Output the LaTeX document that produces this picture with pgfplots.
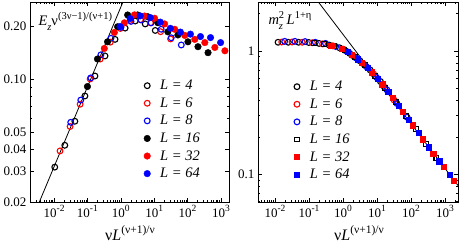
\documentclass[border=0pt]{standalone}
\usepackage{fontspec}
\setmainfont{Liberation Serif}
\usepackage{pgfplots}
\pgfplotsset{compat=1.18}
\newcommand{\fs}{\fontsize{13bp}{15bp}\selectfont}
\newcommand{\fl}{\fontsize{14.5bp}{16bp}\selectfont}
\newcommand{\supx}[1]{\raisebox{0.42em}{\fontsize{9.5bp}{10bp}\selectfont #1}}
\newcommand{\supy}[1]{\raisebox{0.42em}{\fontsize{10.5bp}{11bp}\selectfont #1}}
\newcommand{\supz}[1]{\raisebox{0.42em}{\fontsize{11.5bp}{12bp}\selectfont #1}}
\newcommand{\subx}[1]{\raisebox{-0.3em}{\fontsize{10.5bp}{11bp}\selectfont #1}}
\pgfplotsset{
 oc/.style={only marks, mark=o, mark size=2.9bp, color=#1, mark options={line width=1.1bp}},
 fc/.style={only marks, mark=*, mark size=3.3bp, color=#1},
 os/.style={only marks, mark=square, mark size=2.4bp, color=#1, mark options={line width=1.1bp}},
 fsq/.style={only marks, mark=square*, mark size=2.6bp, color=#1},
 mylegimg/.style={legend image code/.code={\draw[##1] plot coordinates {(0bp,0bp)}; \path[draw=none,fill=none] (-4bp,-3bp) rectangle (11bp,3bp);}},
}
\begin{document}
\begin{tikzpicture}
\begin{axis}[xmode=log, ymode=log, scale only axis,
  axis line style={line width=0.8bp},
  tick style={line width=0.6bp, black},
  major tick length=4bp, minor tick length=2.2bp,
  tick label style={font=\fs},
  legend style={draw=none, fill=none, font=\fl, row sep=2.5bp},
  legend cell align=left, mylegimg,
  at={(30bp,42bp)}, anchor=south west,
  width=199bp, height=200bp,
  xmin=0.001905, xmax=1738, ymin=0.02, ymax=0.276,
  xtick={0.01,0.1,1,10,100,1000},
  xticklabels={10\supx{-2},10\supx{-1},10\supx{0},10\supx{1},10\supx{2},10\supx{3}},
  minor xtick={0.002,0.003,0.004,0.005,0.006,0.007,0.008,0.009,0.02,0.03,0.04,0.05,0.06,0.07,0.08,0.09,0.2,0.3,0.4,0.5,0.6,0.7,0.8,0.9,2,3,4,5,6,7,8,9,20,30,40,50,60,70,80,90,200,300,400,500,600,700,800,900,2000},
  ytick={0.02,0.03,0.04,0.05,0.1,0.2},
  yticklabels={0.02,0.03,0.04,0.05,0.10,0.20},
  minor ytick={0.06,0.07,0.08,0.09},
  legend style={at={(0.553,0.63)}, anchor=north west}]
\addplot[oc=black] coordinates {(0.0105,0.0316)(0.021,0.0421)(0.042,0.0577)(0.084,0.0804)(0.168,0.1045)(0.336,0.136)(0.672,0.169)(1.344,0.196)(2.69,0.215)(5.38,0.207)(10.75,0.190)};
\addlegendentry{\textit{L = 4}}
\addplot[oc=red] coordinates {(0.0151,0.0391)(0.0302,0.0539)(0.0604,0.0722)(0.1208,0.1005)(0.2416,0.1306)(0.483,0.163)(0.966,0.195)(1.93,0.217)(3.87,0.219)(7.73,0.210)(15.5,0.187)(30.9,0.170)};
\addlegendentry{\textit{L = 6}}
\addplot[oc=blue] coordinates {(0.0316,0.0569)(0.0632,0.0762)(0.1264,0.102)(0.253,0.138)(0.506,0.1714)(1.011,0.198)(2.02,0.214)(4.04,0.218)(8.09,0.210)(16.2,0.193)(32.4,0.1726)(64.7,0.157)};
\addlegendentry{\textit{L = 8}}
\addplot[fc=black] coordinates {(0.1,0.091)(0.2,0.1306)(0.4,0.1637)(0.8,0.1995)(1.6,0.2328)(3.2,0.2328)(6.4,0.2276)(12.8,0.2104)(25.6,0.1866)(51.2,0.1791)(102.4,0.1637)(204.8,0.1535)(409.6,0.1419)};
\addlegendentry{\textit{L = 16}}
\addplot[fc=red] coordinates {(0.32,0.150)(0.64,0.185)(1.28,0.210)(2.56,0.233)(5.12,0.2296)(10.24,0.223)(20.5,0.207)(41,0.193)(82,0.178)(164,0.169)(328,0.162)(655,0.152)(1310,0.1455)};
\addlegendentry{\textit{L = 32}}
\addplot[fc=blue] coordinates {(0.95,0.200)(1.9,0.222)(3.8,0.230)(7.6,0.225)(15.2,0.212)(30.4,0.1954)(60.8,0.186)(121.6,0.181)(243,0.1754)(486,0.173)(973,0.162)};
\addlegendentry{\textit{L = 64}}
\addplot[black, line width=0.8bp, no marks, forget plot] coordinates {(0.0015,0.01338)(2,0.354)};
\end{axis}
\begin{axis}[xmode=log, ymode=log, scale only axis,
  axis line style={line width=0.8bp},
  tick style={line width=0.6bp, black},
  major tick length=4bp, minor tick length=2.2bp,
  tick label style={font=\fs},
  legend style={draw=none, fill=none, font=\fl, row sep=2.5bp},
  legend cell align=left, mylegimg,
  at={(258bp,42bp)}, anchor=south west,
  width=200bp, height=200bp,
  xmin=0.003162, xmax=2399, ymin=0.0597, ymax=2.49,
  xtick={0.01,0.1,1,10,100,1000},
  xticklabels={10\supx{-2},10\supx{-1},10\supx{0},10\supx{1},10\supx{2},10\supx{3}},
  minor xtick={0.004,0.005,0.006,0.007,0.008,0.009,0.02,0.03,0.04,0.05,0.06,0.07,0.08,0.09,0.2,0.3,0.4,0.5,0.6,0.7,0.8,0.9,2,3,4,5,6,7,8,9,20,30,40,50,60,70,80,90,200,300,400,500,600,700,800,900,2000},
  ytick={0.1,1}, yticklabels={0.1,1},
  minor ytick={0.06,0.07,0.08,0.09,0.2,0.3,0.4,0.5,0.6,0.7,0.8,0.9,2},
  legend style={at={(0.159,0.625)}, anchor=north west}]
\addplot[oc=black] coordinates {(0.0123,1.175)(0.0246,1.175)(0.0492,1.175)(0.0983,1.17)(0.197,1.15)(0.393,1.115)(0.787,1.06)(1.57,0.955)(3.15,0.83)(6.29,0.70)(12.6,0.565)};
\addlegendentry{\textit{L = 4}}
\addplot[oc=red] coordinates {(0.0158,1.18)(0.0316,1.18)(0.0631,1.175)(0.126,1.165)(0.251,1.14)(0.501,1.10)(1.0,1.035)(2.0,0.91)(3.98,0.785)(7.94,0.65)(15.8,0.515)(31.6,0.40)};
\addlegendentry{\textit{L = 6}}
\addplot[oc=blue] coordinates {(0.0193,1.195)(0.0385,1.195)(0.0767,1.19)(0.153,1.175)(0.305,1.15)(0.610,1.085)(1.216,1.0)(2.43,0.875)(4.84,0.745)(9.66,0.61)(19.3,0.485)(38.5,0.375)(76.7,0.29)};
\addlegendentry{\textit{L = 8}}
\addplot[os=black] coordinates {(0.139,1.16)(0.278,1.135)(0.555,1.09)(1.107,1.02)(2.21,0.89)(4.41,0.765)(8.79,0.63)(17.5,0.50)(35.0,0.388)(69.8,0.297)(139,0.232)(278,0.176)(555,0.136)};
\addlegendentry{\textit{L = 16}}
\addplot[fsq=red] coordinates {(0.447,1.105)(0.891,1.045)(1.78,0.93)(3.55,0.805)(7.08,0.672)(14.1,0.537)(28.2,0.418)(56.2,0.32)(112,0.25)(224,0.193)(447,0.148)(891,0.115)(1778,0.089)};
\addlegendentry{\textit{L = 32}}
\addplot[fsq=blue] coordinates {(1.35,0.98)(2.69,0.856)(5.37,0.727)(10.7,0.592)(21.4,0.465)(42.7,0.36)(85.1,0.278)(170,0.216)(339,0.166)(676,0.128)(1349,0.100)};
\addlegendentry{\textit{L = 64}}
\addplot[black, line width=0.8bp, no marks, forget plot] coordinates {(0.1,3.13)(3162,0.0735)};
\end{axis}
\node[anchor=base west, font=\fl] at (35bp,218bp) {\textit{E}\subx{\textit{z}}ν\supy{(3ν−1)/(ν+1)}};
\node[anchor=base west, font=\fl] at (265bp,219bp) {\textit{m}\rlap{\subx{\textit{z}}}\supy{2}\hspace{2.5bp}\textit{L}\supy{1+η}};
\node[anchor=base, font=\fontsize{16bp}{18bp}\selectfont] at (130bp,4bp) {ν\textit{L}\supz{(ν+1)/ν}};
\node[anchor=base, font=\fontsize{16bp}{18bp}\selectfont] at (359bp,4bp) {ν\textit{L}\supz{(ν+1)/ν}};
\pgfresetboundingbox
\path[use as bounding box] (0,0) rectangle (461bp,244bp);
\end{tikzpicture}
\end{document}
